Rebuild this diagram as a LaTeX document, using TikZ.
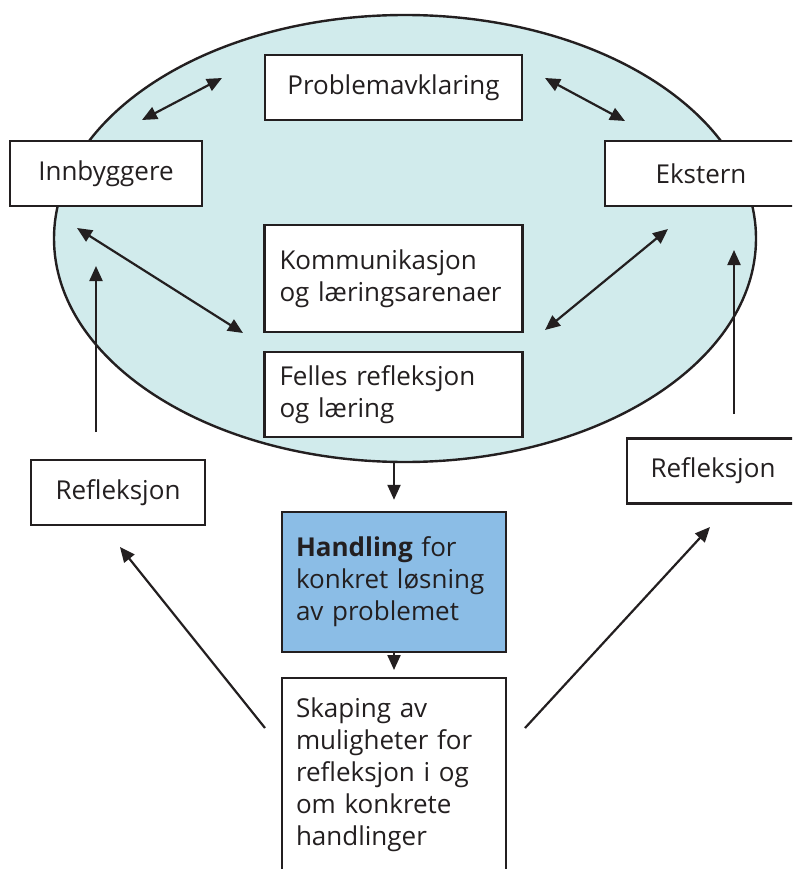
\documentclass[tikz,border=0pt]{standalone}
\usepackage{fontspec}
\setmainfont{Open Sans}
\usetikzlibrary{arrows.meta,shapes.geometric}
\definecolor{ink}{HTML}{231F20}
\definecolor{ellfill}{HTML}{D1EBEC}
\definecolor{handfill}{HTML}{8BBDE6}
\tikzset{
  txt/.style={font=\fontsize{26}{32}\selectfont, text=ink},
  box/.style={txt, draw=ink, line width=2.4pt, fill=white, inner sep=0pt, align=center},
  lbox/.style={box, align=left, text width=228pt, inner xsep=15pt},
  arr/.style={draw=ink, line width=2.2pt, -{Triangle[length=15pt,width=13pt]}},
  darr/.style={draw=ink, line width=2.2pt, {Triangle[length=15pt,width=13pt]}-{Triangle[length=15pt,width=13pt]}},
}
\begin{document}
\begin{tikzpicture}[x=1pt,y=-1pt]
\useasboundingbox (0,0) rectangle (792,869);
\clip (0,0) rectangle (792,869);
% ellipse
\node[ellipse, draw=ink, line width=2.4pt, fill=ellfill, inner sep=0pt,
      minimum width=702pt, minimum height=447pt] (ell) at (405,238.5) {};
% boxes
\node[box, minimum width=257pt, minimum height=65pt] (prob) at (393.5,87.5) {Problemavklaring};
\node[box, minimum width=192pt, minimum height=65pt] (innb) at (106,173.5) {Innbyggere};
\node[box, minimum width=192pt, minimum height=65pt] (ekst) at (701,173.5) {Ekstern};
\node[lbox, minimum height=107pt] (komm) at (393.5,278.5) {Kommunikasjon\\og læringsarenaer};
\node[lbox, minimum height=85pt] (fell) at (393.5,394.5) {Felles refleksjon\\og læring};
\node[box, minimum width=174pt, minimum height=65pt] (refl) at (118,492.5) {Refleksjon};
\node[box, minimum width=172pt, minimum height=65pt] (refr) at (713,471) {Refleksjon};
\node[lbox, fill=handfill, text width=196pt, inner xsep=14pt, minimum height=140pt] (hand) at (394,582) {\textbf{Handling} for\\konkret løsning\\av problemet};
\node[lbox, text width=196pt, inner xsep=14pt, inner ysep=20pt, anchor=north] (skap) at (394,677)
  {Skaping av\\muligheter for\\refleksjon i og\\om konkrete\\handlinger\\[40pt]};
% arrow end points
\coordinate (a1s) at (142,120); \coordinate (a1e) at (222,78);
\coordinate (a2s) at (545,78);  \coordinate (a2e) at (625,121);
\coordinate (a3s) at (77,228);  \coordinate (a3e) at (243,333);
\coordinate (a4s) at (668,229); \coordinate (a4e) at (545,330);
\coordinate (u1s) at (96,432);  \coordinate (u1e) at (96,266);
\coordinate (u2s) at (734,414); \coordinate (u2e) at (734,250);
\coordinate (d1s) at (265,728); \coordinate (d1e) at (120,547);
\coordinate (d2s) at (525,728); \coordinate (d2e) at (710,527);
% connectors
\draw[darr] (a1s) -- (a1e);
\draw[darr] (a2s) -- (a2e);
\draw[darr] (a3s) -- (a3e);
\draw[darr] (a4s) -- (a4e);
\draw[arr] (u1s) -- (u1e);
\draw[arr] (u2s) -- (u2e);
\draw[arr] (d1s) -- (d1e);
\draw[arr] (d2s) -- (d2e);
\draw[arr] (ell.south -| hand.north) -- ([yshift=11pt]hand.north);
\draw[arr] (hand.south) -- ([yshift=7pt]skap.north);
\end{tikzpicture}
\end{document}
